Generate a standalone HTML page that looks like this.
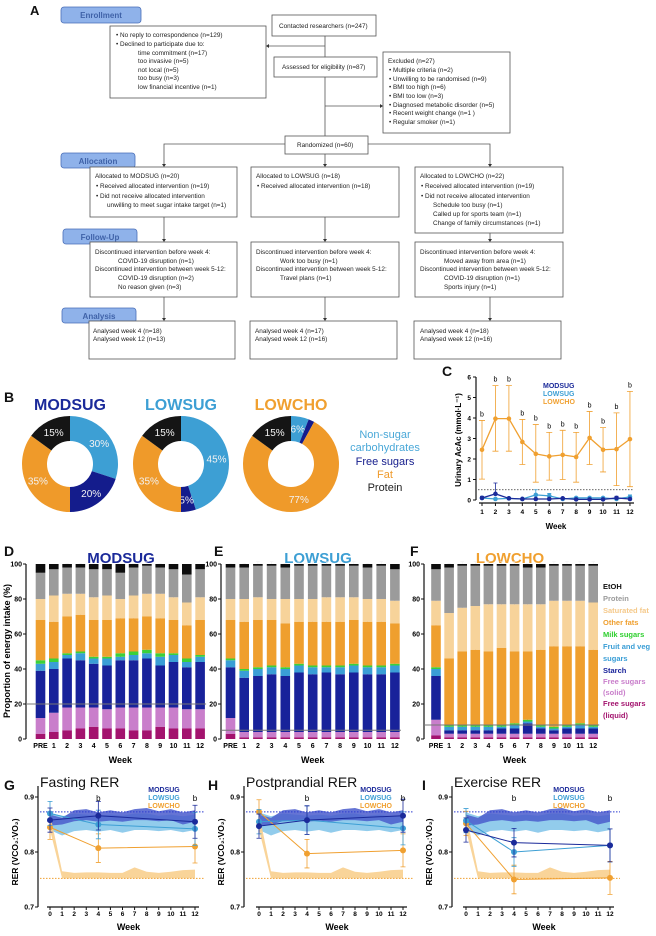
<!DOCTYPE html>
<html><head><meta charset="utf-8">
<style>
html,body{margin:0;padding:0;background:#fff;}
svg{display:block;font-family:"Liberation Sans",Arial,sans-serif;}
.fc{font-size:6.4px;fill:#222;}
.tk{font-size:7px;font-weight:bold;fill:#111;}
</style></head>
<body>
<svg id="fig" width="656" height="936" viewBox="0 0 656 936" xmlns="http://www.w3.org/2000/svg">
<rect width="656" height="936" fill="#fff"/>
<g id="flow" stroke="#555" stroke-width="0.8" fill="none">
  <text x="30" y="15" style="font-size:13px;font-weight:bold;fill:#111;stroke:none">A</text>
  <rect x="61" y="7" width="80" height="16" rx="3" fill="#8fb2ea" stroke="#4a6fb8"/>
  <text x="101" y="18" text-anchor="middle" style="font-size:8px;fill:#3f62a8;stroke:none;font-weight:bold">Enrollment</text>
  <rect x="61" y="153" width="74" height="15" rx="3" fill="#8fb2ea" stroke="#4a6fb8"/>
  <text x="98" y="164" text-anchor="middle" style="font-size:8px;fill:#3f62a8;stroke:none;font-weight:bold">Allocation</text>
  <rect x="63" y="229" width="74" height="15" rx="3" fill="#8fb2ea" stroke="#4a6fb8"/>
  <text x="100" y="240" text-anchor="middle" style="font-size:8px;fill:#3f62a8;stroke:none;font-weight:bold">Follow-Up</text>
  <rect x="62" y="308" width="74" height="15" rx="3" fill="#8fb2ea" stroke="#4a6fb8"/>
  <text x="99" y="319" text-anchor="middle" style="font-size:8px;fill:#3f62a8;stroke:none;font-weight:bold">Analysis</text>

  <rect x="272" y="15" width="104" height="21" fill="#fff"/>
  <rect x="110" y="26" width="156" height="72" fill="#fff"/>
  <rect x="274" y="57" width="103" height="20" fill="#fff"/>
  <rect x="383" y="52" width="127" height="81" fill="#fff"/>
  <rect x="285" y="136" width="83" height="18" fill="#fff"/>
  <rect x="90" y="167" width="147" height="50" fill="#fff"/>
  <rect x="251" y="167" width="148" height="50" fill="#fff"/>
  <rect x="415" y="167" width="148" height="66" fill="#fff"/>
  <rect x="90" y="242" width="147" height="55" fill="#fff"/>
  <rect x="251" y="242" width="148" height="55" fill="#fff"/>
  <rect x="415" y="242" width="148" height="55" fill="#fff"/>
  <rect x="89" y="321" width="146" height="38" fill="#fff"/>
  <rect x="250" y="321" width="147" height="38" fill="#fff"/>
  <rect x="414" y="321" width="147" height="38" fill="#fff"/>
  <path d="M325 36V57M325 77V136M325 46H268M325 106H381M285 144H164V165M368 144H490V165M325 154V165M164 217V240M325 217V240M490 233V240M164 297V319M325 297V319M490 297V319"/>
  <g fill="#333" stroke="none">
    <path d="M266 46l3-2v4z"/><path d="M383 106l-3-2v4z"/>
    <path d="M164 167l-2-3h4z"/><path d="M325 167l-2-3h4z"/><path d="M490 167l-2-3h4z"/>
    <path d="M164 242l-2-3h4z"/><path d="M325 242l-2-3h4z"/><path d="M490 242l-2-3h4z"/>
    <path d="M164 321l-2-3h4z"/><path d="M325 321l-2-3h4z"/><path d="M490 321l-2-3h4z"/>
  </g>
  <g class="fc" stroke="none">
    <text x="279" y="28">Contacted researchers (n=247)</text>
    <text x="116" y="37">•  No reply to correspondence (n=129)</text>
    <text x="116" y="46">•  Declined to participate due to:</text>
    <text x="138" y="55">time commitment (n=17)</text>
    <text x="138" y="63">too invasive (n=5)</text>
    <text x="138" y="72">not local (n=5)</text>
    <text x="138" y="80">too busy (n=3)</text>
    <text x="138" y="89">low financial incentive (n=1)</text>
    <text x="282" y="69">Assessed for eligibility (n=87)</text>
    <text x="388" y="63">Excluded (n=27)</text>
    <text x="389" y="72">•  Multiple criteria (n=2)</text>
    <text x="389" y="81">•  Unwilling to be randomised (n=9)</text>
    <text x="389" y="89">•  BMI too high (n=6)</text>
    <text x="389" y="98">•  BMI too low (n=3)</text>
    <text x="389" y="107">•  Diagnosed metabolic disorder (n=5)</text>
    <text x="389" y="115">•  Recent weight change (n=1 )</text>
    <text x="389" y="124">•  Regular smoker (n=1)</text>
    <text x="297" y="147">Randomized (n=60)</text>
    <text x="95" y="178">Allocated to MODSUG (n=20)</text>
    <text x="96" y="188">•  Received allocated intervention (n=19)</text>
    <text x="96" y="198">•  Did not receive allocated intervention</text>
    <text x="107" y="207">unwilling to meet sugar intake target (n=1)</text>
    <text x="256" y="178">Allocated to LOWSUG (n=18)</text>
    <text x="257" y="188">•  Received allocated intervention (n=18)</text>
    <text x="420" y="178">Allocated to LOWCHO (n=22)</text>
    <text x="421" y="188">•  Received allocated intervention (n=19)</text>
    <text x="421" y="198">•  Did not receive allocated intervention</text>
    <text x="433" y="207">Schedule too busy (n=1)</text>
    <text x="433" y="216">Called up for sports team (n=1)</text>
    <text x="433" y="225">Change of family circumstances (n=1)</text>
    <text x="95" y="254">Discontinued intervention before week 4:</text>
    <text x="118" y="263">COVID-19 disruption (n=1)</text>
    <text x="95" y="271">Discontinued intervention between week 5-12:</text>
    <text x="118" y="280">COVID-19 disruption (n=2)</text>
    <text x="118" y="289">No reason given (n=3)</text>
    <text x="256" y="254">Discontinued intervention before week 4:</text>
    <text x="280" y="263">Work too busy (n=1)</text>
    <text x="256" y="271">Discontinued intervention between week 5-12:</text>
    <text x="280" y="280">Travel plans (n=1)</text>
    <text x="420" y="254">Discontinued intervention before week 4:</text>
    <text x="444" y="263">Moved away from area (n=1)</text>
    <text x="420" y="271">Discontinued intervention between week 5-12:</text>
    <text x="444" y="280">COVID-19 disruption (n=1)</text>
    <text x="444" y="289">Sports injury (n=1)</text>
    <text x="93" y="333">Analysed week 4 (n=18)</text>
    <text x="93" y="341">Analysed week 12 (n=13)</text>
    <text x="255" y="333">Analysed week 4 (n=17)</text>
    <text x="255" y="341">Analysed week 12 (n=16)</text>
    <text x="420" y="333">Analysed week 4 (n=18)</text>
    <text x="420" y="341">Analysed week 12 (n=16)</text>
  </g>
</g>
<g id="panels"></g>
</svg>
<script>
// ---------- DATA ----------
const donutGroups = ['MODSUG','LOWSUG','LOWCHO'];
const donutNSC = [30,45,6];
const donutFS = [20,5,2];
const donutFat = [35,35,77];
const donutProt = [15,15,15];

const weeksC = [1,2,3,4,5,6,7,8,9,10,11,12];
const acacLowcho = [2.45,3.97,3.97,2.83,2.25,2.13,2.2,2.1,3.03,2.45,2.48,2.97];
const acacLowchoHi = [3.88,5.58,5.58,3.93,3.68,3.3,3.4,3.3,4.32,3.53,4.25,5.3];
const acacLowchoLo = [1.02,2.38,2.38,1.73,0.87,0.97,1.0,0.87,1.73,1.37,0.7,0.65];
const acacModsug = [0.1,0.3,0.08,0.05,0.05,0.05,0.08,0.03,0.03,0.03,0.1,0.05];
const acacModsugHi = [0.18,0.83,0.12,0.08,0.08,0.1,0.12,0.06,0.06,0.06,0.18,0.1];
const acacLowsug = [0.1,0.05,0.08,0.05,0.25,0.2,0.05,0.1,0.1,0.1,0.05,0.15];
const acacLowsugHi = [0.15,0.1,0.12,0.08,0.5,0.32,0.1,0.15,0.15,0.15,0.1,0.25];

const barCats = ['PRE','1','2','3','4','5','6','7','8','9','10','11','12'];
const layerNames = ['Free sugars (liquid)','Free sugars (solid)','Starch','Fruit and veg sugars','Milk sugars','Other fats','Saturated fat','Protein','EtOH'];
const modLiq = [3,4,5,6,7,6,6,5,5,7,6,6,6];
const modSolid = [9,11,13,12,11,11,12,13,13,11,12,11,11];
const modStarch = [27,25,28,27,25,25,27,27,28,24,26,24,27];
const modFruit = [4,4,2,4,3,4,2,3,3,5,4,3,3];
const modMilk = [2,2,1,1,1,1,2,2,2,2,1,2,1];
const modOther = [23,21,21,21,21,21,20,19,19,20,19,19,20];
const modSat = [12,15,13,12,13,14,11,13,13,14,13,13,13];
const modProt = [15,15,15,15,16,15,15,16,16,15,16,16,16];
const modEtoh = [5,3,2,2,3,3,5,2,1,2,3,6,3];
const lowsLiq = [3,1,1,1,1,1,1,1,1,1,1,1,1];
const lowsSolid = [9,3,3,3,3,3,3,3,3,3,3,3,3];
const lowsStarch = [29,31,32,33,32,34,33,34,33,34,33,33,34];
const lowsFruit = [4,4,4,4,4,4,4,3,4,4,4,4,4];
const lowsMilk = [1,1,1,1,1,1,1,1,1,1,1,1,1];
const lowsOther = [22,27,27,26,25,24,25,25,25,25,25,25,23];
const lowsSat = [12,13,13,12,14,13,13,14,14,13,13,13,13];
const lowsProt = [18,18,18,19,18,19,19,18,18,18,18,19,18];
const lowsEtoh = [2,2,1,1,2,1,1,1,1,1,2,1,3];
const lowcLiq = [2,1,1,1,1,1,1,1,1,1,1,1,1];
const lowcSolid = [9,2,2,2,2,2,2,2,2,2,2,2,2];
const lowcStarch = [25,2,2,2,2,3,3,6,3,2,3,3,3];
const lowcFruit = [4,2,2,2,2,1,2,1,1,1,1,2,1];
const lowcMilk = [1,1,1,1,1,1,1,1,1,1,1,1,1];
const lowcOther = [24,38,42,43,42,44,41,39,43,46,45,44,43];
const lowcSat = [14,26,25,25,27,25,27,27,26,26,26,26,27];
const lowcProt = [18,26,24,23,22,22,22,21,21,20,20,20,21];
const lowcEtoh = [3,2,1,1,1,1,1,2,2,1,1,1,1];
const refLines = [20,5,8];

const rerWeeks = [0,4,12];
const fastMod = [0.858,0.866,0.855];
const fastLows = [0.87,0.85,0.842];
const fastLowc = [0.845,0.807,0.81];
const postMod = [0.847,0.858,0.866];
const postLows = [0.855,0.858,0.843];
const postLowc = [0.873,0.797,0.803];
const exMod = [0.84,0.817,0.812];
const exLows = [0.857,0.8,0.812];
const exLowc = [0.852,0.75,0.753];
const rerErr = [0.022,0.026,0.03];
const bandWeeks = [0,1,2,3,4,5,6,7,8,9,10,11,12];
const darkBandHi = [0.868,0.862,0.876,0.878,0.872,0.876,0.872,0.878,0.88,0.874,0.878,0.872,0.876];
const darkBandLo = [0.848,0.85,0.856,0.858,0.855,0.857,0.855,0.858,0.858,0.856,0.858,0.85,0.855];
const lightBandHi = [0.872,0.865,0.87,0.868,0.866,0.868,0.866,0.87,0.87,0.866,0.868,0.865,0.868];
const lightBandLo = [0.84,0.83,0.838,0.84,0.837,0.84,0.835,0.84,0.84,0.838,0.84,0.836,0.84];
const orangeBandHi = [0.87,0.765,0.762,0.763,0.763,0.762,0.762,0.772,0.764,0.762,0.764,0.767,0.768];
const orangeBandLo = [0.84,0.752,0.752,0.752,0.752,0.752,0.752,0.752,0.752,0.752,0.752,0.752,0.752];
const refHigh = 0.873;
const refLow = 0.752;

// ---------- DRAW ----------
const NS='http://www.w3.org/2000/svg';
const root=document.getElementById('panels');
const C_MOD='#1b2a9a', C_LOWS='#3d9fd4', C_LOWC='#f0a030';
function el(tag,parent){const e=document.createElementNS(NS,tag);(parent||root).appendChild(e);return e;}
function setA(e,o){for(const k in o)e.setAttribute(k,o[k]);return e;}
function txt(parent,x,y,s,style,anchor){const t=el('text',parent);setA(t,{x:x,y:y,style:style,'text-anchor':anchor||'start'});t.textContent=s;return t;}

[['B',4,402],['C',442,376],['D',4,556],['E',214,556],['F',410,556],['G',4,790],['H',208,790],['I',422,790]].forEach(l=>{
  const t=txt(root,l[1],l[2],l[0],'font-size:14px;font-weight:bold;fill:#111');
  
  
});

const donutCx=[70,181,291], donutCol=[C_MOD,C_LOWS,C_LOWC];
function arc(cx,cy,r0,r1,a0,a1){
  const p=(r,a)=>[cx+r*Math.sin(a),cy-r*Math.cos(a)];
  const lg=(a1-a0)>Math.PI?1:0;
  const [x0,y0]=p(r1,a0),[x1,y1]=p(r1,a1),[x2,y2]=p(r0,a1),[x3,y3]=p(r0,a0);
  return `M${x0} ${y0}A${r1} ${r1} 0 ${lg} 1 ${x1} ${y1}L${x2} ${y2}A${r0} ${r0} 0 ${lg} 0 ${x3} ${y3}Z`;
}
donutGroups.forEach((g,i)=>{
  const gg=el('g');
  
  
  txt(gg,donutCx[i],410,g,'font-size:16px;font-weight:bold;fill:'+donutCol[i],'middle');
  const vals=[donutNSC[i],donutFS[i],donutFat[i],donutProt[i]];
  const cols=['#3d9fd4','#141c8c','#ef9a2a','#151515'];
  const names=['non-sugar-carbs','free-sugars','fat','protein'];
  let a=0;
  vals.forEach((v,k)=>{
    const a1=a+v/100*2*Math.PI;
    const p=el('path',gg);setA(p,{d:arc(donutCx[i],464,23,48,a,a1),fill:cols[k]});
    
    
    if(v>=5){const m=(a+a1)/2;txt(gg,donutCx[i]+36*Math.sin(m),464-36*Math.cos(m)+4,v+'%','font-size:10px;fill:#f2f2f2','middle');}
    a=a1;
  });
});
const bl=el('g');


[['Non-sugar',438,'#4aa8d8'],['carbohydrates',451,'#4aa8d8'],['Free sugars',465,'#141c8c'],['Fat',478,'#ef9a2a'],['Protein',491,'#222']].forEach(r=>txt(bl,385,r[1],r[0],'font-size:11px;fill:'+r[2],'middle'));

(function(){
  const g=el('g');
  
  
  const xC=w=>482+(w-1)*13.45, yC=v=>500-v*20.5;
  setA(el('path',g),{d:`M476 ${yC(6)}V500M479 503H634`,stroke:'#111','stroke-width':1.2,fill:'none'});
  for(let v=0;v<=6;v++){setA(el('line',g),{x1:473,x2:476,y1:yC(v),y2:yC(v),stroke:'#111'});txt(g,471,yC(v)+2.5,String(v),'font-size:6.5px;font-weight:bold','end');}
  weeksC.forEach(w=>{setA(el('line',g),{x1:xC(w),x2:xC(w),y1:503,y2:506,stroke:'#111'});txt(g,xC(w),514,String(w),'font-size:6.5px;font-weight:bold','middle');});
  txt(g,556,529,'Week','font-size:8px;font-weight:bold','middle');
  const yl=txt(g,0,0,'Urinary AcAc (mmol·L⁻¹)','font-size:8px;font-weight:bold','middle');yl.setAttribute('transform','translate(461 440) rotate(-90)');
  setA(el('line',g),{x1:478,x2:634,y1:yC(0.5),y2:yC(0.5),stroke:'#333','stroke-dasharray':'1.5 1.5','stroke-width':0.8});
  const series=[[acacLowcho,C_LOWC,'lowcho'],[acacLowsug,C_LOWS,'lowsug'],[acacModsug,C_MOD,'modsug']];
  weeksC.forEach((w,i)=>{
    setA(el('path',g),{d:`M${xC(w)} ${yC(acacLowchoLo[i])}V${yC(acacLowchoHi[i])}M${xC(w)-3} ${yC(acacLowchoHi[i])}h6M${xC(w)-3} ${yC(acacLowchoLo[i])}h6`,stroke:C_LOWC,'stroke-width':0.8,fill:'none'});
    txt(g,xC(w),yC(acacLowchoHi[i])-4,'b','font-size:7px','middle');
    setA(el('path',g),{d:`M${xC(w)} ${yC(acacModsug[i])}V${yC(acacModsugHi[i])}h-2h4`,stroke:C_MOD,'stroke-width':0.8,fill:'none'});
    setA(el('path',g),{d:`M${xC(w)} ${yC(acacLowsug[i])}V${yC(acacLowsugHi[i])}h-2h4`,stroke:C_LOWS,'stroke-width':0.8,fill:'none'});
  });
  series.forEach(s=>{
    const l=el('polyline',g);setA(l,{points:s[0].map((v,i)=>xC(weeksC[i])+','+yC(v)).join(' '),fill:'none',stroke:s[1],'stroke-width':1.3});
    
    
    s[0].forEach((v,i)=>{setA(el('circle',g),{cx:xC(weeksC[i]),cy:yC(v),r:2.3,fill:s[1]});});
  });
  txt(g,543,388,'MODSUG','font-size:7px;font-weight:bold;fill:'+C_MOD);
  txt(g,543,396,'LOWSUG','font-size:7px;font-weight:bold;fill:'+C_LOWS);
  txt(g,543,404,'LOWCHO','font-size:7px;font-weight:bold;fill:'+C_LOWC);
})();

const layerCols=['#a3136e','#c97ecb','#18229a','#3a9ed6','#3ad13a','#ef9f2e','#f7d39a','#9b9b9b','#0d0d0d'];
const groupsBars=[
  {name:'MODSUG',col:C_MOD,axis:26,x0:40.5,dx:13.3,tc:121,layers:[modLiq,modSolid,modStarch,modFruit,modMilk,modOther,modSat,modProt,modEtoh]},
  {name:'LOWSUG',col:C_LOWS,axis:221,x0:230.5,dx:13.7,tc:318,layers:[lowsLiq,lowsSolid,lowsStarch,lowsFruit,lowsMilk,lowsOther,lowsSat,lowsProt,lowsEtoh]},
  {name:'LOWCHO',col:C_LOWC,axis:424,x0:436,dx:13.1,tc:510,layers:[lowcLiq,lowcSolid,lowcStarch,lowcFruit,lowcMilk,lowcOther,lowcSat,lowcProt,lowcEtoh]}
];
const yB=v=>739-v*1.75;
groupsBars.forEach((G,gi)=>{
  const g=el('g');
  
  
  txt(g,G.tc,563,G.name,'font-size:15px;font-weight:bold;fill:'+G.col,'middle');
  setA(el('path',g),{d:`M${G.axis} ${yB(100)}V739`,stroke:'#111','stroke-width':1.2});
  for(let v=0;v<=100;v+=20){setA(el('line',g),{x1:G.axis-3,x2:G.axis,y1:yB(v),y2:yB(v),stroke:'#111'});txt(g,G.axis-4,yB(v)+2.5,String(v),'font-size:7px;font-weight:bold','end');}
  barCats.forEach((c,i)=>{
    const cx=G.x0+i*G.dx;let cum=0;
    G.layers.forEach((arr,k)=>{
      const v=arr[i];const r=el('rect',g);
      setA(r,{x:cx-4.8,y:yB(cum+v),width:9.6,height:v*1.75,fill:layerCols[k]});
      
      
      cum+=v;
      if(k===2||k===3||k===5||k===6||k===7){
        const ec=(k===7)?'#eee':(k===2?'#0a1070':'#c67f1a');
        setA(el('path',g),{d:`M${cx} ${yB(cum)}v-4m-1.8 0h3.6`,stroke:ec,'stroke-width':0.6,fill:'none'});
      }
    });
    txt(g,cx,748,c,'font-size:7px;font-weight:bold','middle');
  });
  setA(el('line',g),{x1:G.axis,x2:G.x0+12*G.dx+6,y1:yB(refLines[gi]),y2:yB(refLines[gi]),stroke:'#777','stroke-width':0.9});
  txt(g,G.x0+6*G.dx,763,'Week','font-size:9px;font-weight:bold','middle');
});
const yl2=txt(root,0,0,'Proportion of energy intake (%)','font-size:9px;font-weight:bold','middle');
yl2.setAttribute('transform','translate(10 651) rotate(-90)');


const lg=el('g');


[['EtOH',589,'#111'],['Protein',601,'#9b9b9b'],['Saturated fat',613,'#f5c98a'],['Other fats',625,'#ef9f2e'],['Milk sugars',637,'#2ecf2e'],['Fruit and veg',649,'#3a9ed6'],['sugars',661,'#3a9ed6'],['Starch',673,'#18229a'],['Free sugars',684,'#c97ecb'],['(solid)',695,'#c97ecb'],['Free sugars',706,'#a3136e'],['(liquid)',718,'#a3136e']].forEach(r=>txt(lg,603,r[1],r[0],'font-size:7.5px;font-weight:bold;fill:'+r[2]));

const rerPanels=[
  {title:'Fasting RER',axis:38,x0:50,x12:195,lc:164,mod:fastMod,lows:fastLows,lowc:fastLowc,bs:[4,12]},
  {title:'Postprandial RER',axis:244,x0:259,x12:403,lc:376,mod:postMod,lows:postLows,lowc:postLowc,bs:[4,12]},
  {title:'Exercise RER',axis:452,x0:466,x12:610,lc:569,mod:exMod,lows:exLows,lowc:exLowc,bs:[4,12]}
];
const yR=v=>797-(v-0.9)*550;
rerPanels.forEach(P=>{
  const g=el('g');
  
  
  const xR=w=>P.x0+(P.x12-P.x0)*w/12;
  txt(g,P.axis+2,787,P.title,'font-size:14px;fill:#111');
  const band=(hi,lo,col,op)=>{const p=el('path',g);setA(p,{d:'M'+bandWeeks.map((w,i)=>xR(w)+' '+yR(hi[i])).join('L')+'L'+bandWeeks.slice().reverse().map((w,j)=>xR(w)+' '+yR(lo[lo.length-1-j])).join('L')+'Z',fill:col,opacity:op});return p;};
  band(lightBandHi,lightBandLo,'#86c6ea',0.9);
  band(darkBandHi,darkBandLo,'#4a5ccd',0.85);
  band(orangeBandHi,orangeBandLo,'#f8cf8e',0.9);
  setA(el('line',g),{x1:P.axis+2,x2:P.x12+10,y1:yR(refHigh),y2:yR(refHigh),stroke:'#2b3ad0','stroke-dasharray':'1.5 1.5','stroke-width':1});
  setA(el('line',g),{x1:P.axis+2,x2:P.x12+10,y1:yR(refLow),y2:yR(refLow),stroke:'#f0a030','stroke-dasharray':'1.5 1.5','stroke-width':1});
  setA(el('path',g),{d:`M${P.axis} ${yR(0.92)}V${yR(0.7)}M${P.x0-3} 907H${P.x12+4}`,stroke:'#111','stroke-width':1.2,fill:'none'});
  [0.9,0.8,0.7].forEach(v=>{setA(el('line',g),{x1:P.axis-3,x2:P.axis,y1:yR(v),y2:yR(v),stroke:'#111'});txt(g,P.axis-4,yR(v)+2.5,v.toFixed(1),'font-size:7px;font-weight:bold','end');});
  bandWeeks.forEach(w=>{setA(el('line',g),{x1:xR(w),x2:xR(w),y1:907,y2:910,stroke:'#111'});txt(g,xR(w),916,String(w),'font-size:6.5px;font-weight:bold','middle');});
  txt(g,(P.x0+P.x12)/2+6,930,'Week','font-size:9px;font-weight:bold','middle');
  const yl=txt(g,0,0,'RER (VCO₂:VO₂)','font-size:8.5px;font-weight:bold','middle');yl.setAttribute('transform',`translate(${P.axis-20} 852) rotate(-90)`);
  [[P.lowc,C_LOWC,'lowcho'],[P.lows,C_LOWS,'lowsug'],[P.mod,C_MOD,'modsug']].forEach(s=>{
    s[0].forEach((v,i)=>{setA(el('path',g),{d:`M${xR(rerWeeks[i])} ${yR(v-rerErr[i])}V${yR(v+rerErr[i])}M${xR(rerWeeks[i])-2.5} ${yR(v-rerErr[i])}h5M${xR(rerWeeks[i])-2.5} ${yR(v+rerErr[i])}h5`,stroke:s[1],'stroke-width':0.8,fill:'none'});});
    const l=el('polyline',g);setA(l,{points:s[0].map((v,i)=>xR(rerWeeks[i])+','+yR(v)).join(' '),fill:'none',stroke:s[1],'stroke-width':1});
    
    
    s[0].forEach((v,i)=>{setA(el('circle',g),{cx:xR(rerWeeks[i]),cy:yR(v),r:3,fill:s[1]});});
  });
  P.bs.forEach(w=>txt(g,xR(w),801,'b','font-size:8px','middle'));
  txt(g,P.lc,792,'MODSUG','font-size:7px;font-weight:bold;fill:'+C_MOD,'middle');
  txt(g,P.lc,800,'LOWSUG','font-size:7px;font-weight:bold;fill:'+C_LOWS,'middle');
  txt(g,P.lc,808,'LOWCHO','font-size:7px;font-weight:bold;fill:'+C_LOWC,'middle');
});
</script>
</body></html>
